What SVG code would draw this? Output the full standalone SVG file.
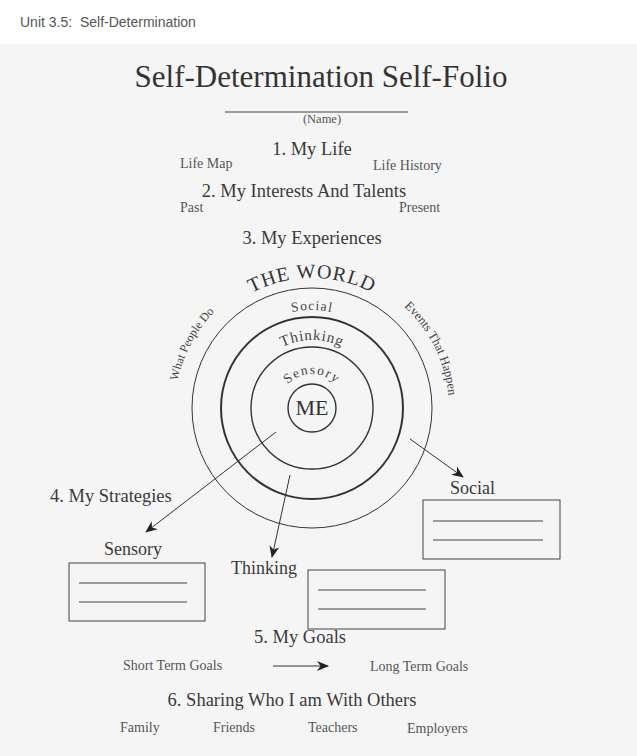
<svg xmlns="http://www.w3.org/2000/svg" width="637" height="756" viewBox="0 0 637 756">
<style>
.hdr{font-family:"Liberation Sans",Arial,sans-serif;font-size:14px;fill:#555;white-space:pre}
.serif{font-family:"Liberation Serif","Times New Roman",serif}
.title{font-size:31px;fill:#333}
.h{font-size:18.5px;fill:#3a3a3a}
.lbl{font-size:18px;fill:#3a3a3a}
.sm{font-size:14px;fill:#555}
.ring{fill:none;stroke:#333}
.box{fill:none;stroke:#444;stroke-width:1}
.rule{stroke:#444;stroke-width:1}
.conn{stroke:#333;stroke-width:1;fill:none}
</style>
<defs>
<marker id="arr" viewBox="0 0 12 10" refX="11" refY="5" markerWidth="12" markerHeight="10" markerUnits="userSpaceOnUse" orient="auto">
<path d="M0,0 L12,5 L0,10 L3.5,5 Z" fill="#222"/>
</marker>
<path id="pWorld" d="M182,408 A130,130 0 0 1 442,408"/>
<path id="pSocial" d="M214,408 A98,98 0 0 1 410,408"/>
<path id="pThinking" d="M244,408 A68,68 0 0 1 380,408"/>
<path id="pSensory" d="M278,408 A34,34 0 0 1 346,408"/>
<path id="pSide" d="M312,545 A137,137 0 1 1 312,271 A137,137 0 1 1 312,545"/>
</defs>
<rect x="0" y="0" width="637" height="756" fill="#ffffff"/>
<rect x="0" y="44" width="637" height="712" fill="#f5f5f5"/>

<text class="hdr" x="20" y="27">Unit 3.5:&#160; Self-Determination</text>

<g id="header" class="serif">
<text class="title" x="321" y="87" text-anchor="middle">Self-Determination Self-Folio</text>
<line class="rule" x1="225" y1="112" x2="408" y2="112"/>
<text x="322" y="123" text-anchor="middle" font-size="12.5" fill="#555">(Name)</text>
</g>

<g id="section1" class="serif">
<text class="h" x="312" y="155" text-anchor="middle">1. My Life</text>
<text class="sm" x="180" y="168">Life Map</text>
<text class="sm" x="373" y="170">Life History</text>
</g>

<g id="section2" class="serif">
<text class="h" x="304" y="197" text-anchor="middle">2. My Interests And Talents</text>
<text class="sm" x="180" y="212">Past</text>
<text class="sm" x="399" y="212">Present</text>
</g>

<g id="section3" class="serif">
<text class="h" x="312" y="244" text-anchor="middle">3. My Experiences</text>
</g>

<g id="world" class="serif">
<circle class="ring" cx="312" cy="408" r="120" stroke-width="1"/>
<text font-size="20" fill="#333" letter-spacing="1"><textPath href="#pWorld" startOffset="50%" text-anchor="middle">THE WORLD</textPath></text>
<text font-size="12" fill="#444"><textPath href="#pSide" startOffset="282" text-anchor="middle">What People Do</textPath></text>
<text font-size="12.5" fill="#444"><textPath href="#pSide" startOffset="582" text-anchor="middle">Events That Happen</textPath></text>
</g>

<g id="ring-social" class="serif">
<text font-size="13.5" fill="#444" letter-spacing="1.2"><textPath href="#pSocial" startOffset="50%" text-anchor="middle">Social</textPath></text>
</g>

<g id="ring-thinking" class="serif">
<circle class="ring" cx="312" cy="408" r="91" stroke-width="2"/>
<text font-size="15" fill="#444" letter-spacing="0.8"><textPath href="#pThinking" startOffset="50%" text-anchor="middle">Thinking</textPath></text>
</g>

<g id="ring-sensory" class="serif">
<circle class="ring" cx="312" cy="408" r="61" stroke-width="1.4"/>
<text font-size="13.5" fill="#444" letter-spacing="1.5"><textPath href="#pSensory" startOffset="50%" text-anchor="middle">Sensory</textPath></text>
</g>

<g id="me" class="serif">
<circle class="ring" cx="312" cy="408" r="24" stroke-width="1.4"/>
<text x="312" y="415" text-anchor="middle" font-size="22" fill="#333">ME</text>
</g>

<g id="connectors">
<line class="conn" x1="276" y1="432" x2="146" y2="532" marker-end="url(#arr)"/>
<line class="conn" x1="290" y1="475" x2="272" y2="557" marker-end="url(#arr)"/>
<line class="conn" x1="410" y1="439" x2="463" y2="477" marker-end="url(#arr)"/>
<line class="conn" x1="273" y1="666" x2="328" y2="666" marker-end="url(#arr)"/>
</g>

<g id="strategies" class="serif">
<text class="h" x="50" y="502">4. My Strategies</text>
</g>

<g id="box-sensory" class="serif">
<text class="lbl" x="104" y="555">Sensory</text>
<rect class="box" x="69" y="563" width="136" height="58"/>
<line class="rule" x1="79" y1="583" x2="187" y2="583"/>
<line class="rule" x1="79" y1="602" x2="187" y2="602"/>
</g>

<g id="box-thinking" class="serif">
<text class="lbl" x="231" y="574">Thinking</text>
<rect class="box" x="308" y="570" width="137" height="59"/>
<line class="rule" x1="318" y1="590" x2="426" y2="590"/>
<line class="rule" x1="318" y1="609" x2="426" y2="609"/>
</g>

<g id="box-social" class="serif">
<text class="lbl" x="450" y="494">Social</text>
<rect class="box" x="423" y="500" width="137" height="59"/>
<line class="rule" x1="433" y1="521" x2="543" y2="521"/>
<line class="rule" x1="433" y1="540" x2="543" y2="540"/>
</g>

<g id="section5" class="serif">
<text class="h" x="300" y="643" text-anchor="middle">5. My Goals</text>
<text class="sm" x="123" y="670">Short Term Goals</text>
<text class="sm" x="370" y="671">Long Term Goals</text>
</g>

<g id="section6" class="serif">
<text class="h" x="292" y="706" text-anchor="middle">6. Sharing Who I am With Others</text>
<text class="sm" x="120" y="732">Family</text>
<text class="sm" x="213" y="732">Friends</text>
<text class="sm" x="308" y="732">Teachers</text>
<text class="sm" x="407" y="733">Employers</text>
</g>
</svg>
